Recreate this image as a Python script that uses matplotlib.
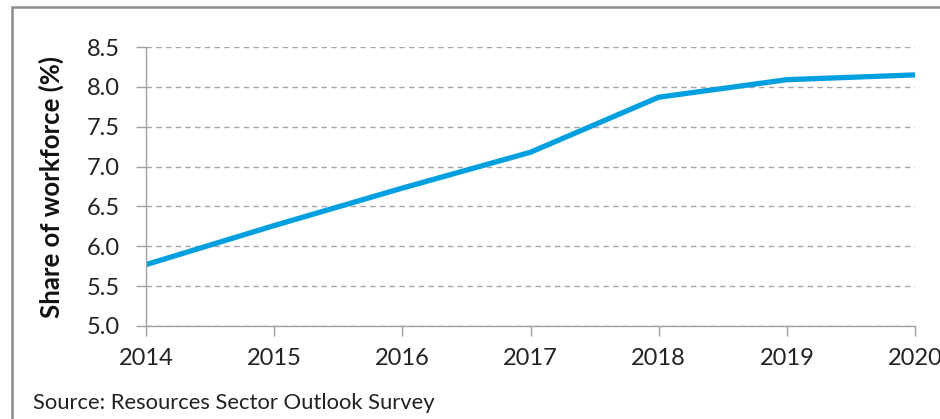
import matplotlib.pyplot as plt
from matplotlib.patches import Rectangle

plt.rcParams['font.family'] = ['Lato', 'DejaVu Sans']

years = [2014, 2015, 2016, 2017, 2018, 2019, 2020]
share = [5.77, 6.26, 6.73, 7.18, 7.87, 8.09, 8.15]
y_ticks = [5.0, 5.5, 6.0, 6.5, 7.0, 7.5, 8.0, 8.5]

fig = plt.figure(figsize=(9.4, 4.19), dpi=100)
ax = fig.add_axes([146 / 940, 1 - 326 / 419, (915 - 146) / 940, (326 - 47) / 419])

ax.plot(years, share, color='#00a0e0', linewidth=3.8, solid_capstyle='butt')

ax.set_xlim(2014, 2020)
ax.set_ylim(5.0, 8.5)
ax.set_xticks(years)
ax.set_yticks(y_ticks)
ax.set_yticklabels([f'{v:.1f}' for v in y_ticks])

ax.yaxis.grid(True, linestyle=(0, (4, 3)), color='#a6a6a6', linewidth=1.0)
ax.set_axisbelow(True)

for side in ['top', 'right']:
    ax.spines[side].set_visible(False)
for side in ['left', 'bottom']:
    ax.spines[side].set_color('#a0a0a0')
    ax.spines[side].set_linewidth(1.0)

ax.tick_params(axis='both', colors='#a0a0a0', labelcolor='#222222',
               labelsize=17, length=7, width=1.0, direction='out')
ax.tick_params(axis='x', pad=9)
ax.tick_params(axis='y', pad=12)

ax.set_ylabel('Share of workforce (%)', fontsize=18.5, fontweight='bold',
              color='#111111', labelpad=16)

fig.text(33 / 940, 1 - 403 / 419, 'Source: Resources Sector Outlook Survey',
         fontsize=15.8, color='#222222', va='center', ha='left')

# outer frame around the whole chart
frame = Rectangle((12 / 940, -0.05), 1.1, 1.05 - 7 / 419, transform=fig.transFigure,
                  fill=False, edgecolor='#8c8c8c', linewidth=1.8, clip_on=False)
fig.patches.append(frame)

fig.savefig('out.png', dpi=100)
